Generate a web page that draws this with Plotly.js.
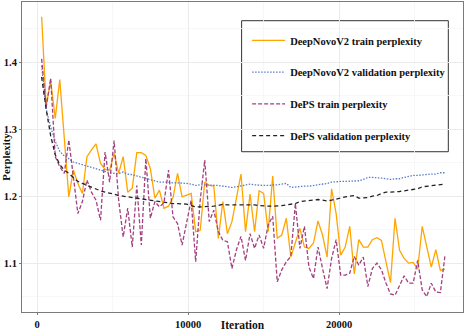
<!DOCTYPE html>
<html>
<head>
<meta charset="utf-8">
<script src="https://cdn.plot.ly/plotly-3.0.1.min.js"></script>
<style>html,body{margin:0;padding:0;background:#fff;}#chart{width:467px;height:331px;}</style>
</head>
<body>
<div id="chart"></div>
<script>
// Iterations (x values), one every 300 iterations
const iterations = [300,600,900,1200,1500,1800,2100,2400,2700,3000,3300,3600,3900,4200,4500,4800,5100,5400,5700,6000,6300,6600,6900,7200,7500,7800,8100,8400,8700,9000,9300,9600,9900,10200,10500,10800,11100,11400,11700,12000,12300,12600,12900,13200,13500,13800,14100,14400,14700,15000,15300,15600,15900,16200,16500,16800,17100,17400,17700,18000,18300,18600,18900,19200,19500,19800,20100,20400,20700,21000,21300,21600,21900,22200,22500,22800,23100,23400,23700,24000,24300,24600,24900,25200,25500,25800,26100,26400,26700,27000];

const deepnovoTrain = [1.468,1.335,1.372,1.316,1.374,1.284,1.199,1.239,1.219,1.204,1.259,1.269,1.278,1.249,1.240,1.239,1.264,1.234,1.259,1.206,1.212,1.265,1.265,1.261,1.241,1.197,1.209,1.182,1.185,1.198,1.234,1.199,1.201,1.204,1.147,1.149,1.221,1.216,1.215,1.137,1.192,1.144,1.162,1.200,1.233,1.147,1.203,1.147,1.208,1.204,1.147,1.230,1.137,1.142,1.167,1.109,1.130,1.152,1.124,1.122,1.130,1.163,1.142,1.109,1.211,1.174,1.112,1.124,1.155,1.084,1.135,1.124,1.124,1.135,1.138,1.134,1.102,1.071,1.167,1.119,1.107,1.100,1.101,1.091,1.155,1.124,1.094,1.120,1.089,1.091];

const deepnovoVal = [1.395,1.330,1.303,1.282,1.267,1.260,1.256,1.251,1.249,1.247,1.245,1.242,1.241,1.238,1.237,1.235,1.234,1.234,1.236,1.233,1.232,1.230,1.228,1.226,1.225,1.223,1.221,1.221,1.220,1.220,1.220,1.220,1.219,1.218,1.216,1.217,1.217,1.216,1.216,1.216,1.215,1.214,1.213,1.214,1.215,1.216,1.218,1.217,1.216,1.216,1.216,1.216,1.217,1.218,1.219,1.213,1.214,1.214,1.215,1.215,1.216,1.216,1.217,1.219,1.221,1.222,1.222,1.222,1.222,1.222,1.223,1.225,1.228,1.228,1.228,1.227,1.226,1.225,1.226,1.226,1.228,1.230,1.231,1.231,1.232,1.232,1.233,1.233,1.235,1.235];

const depsTrain = [1.405,1.333,1.376,1.259,1.244,1.234,1.284,1.230,1.174,1.192,1.224,1.206,1.194,1.164,1.266,1.221,1.283,1.194,1.139,1.182,1.124,1.216,1.127,1.256,1.167,1.192,1.184,1.190,1.239,1.169,1.159,1.127,1.159,1.194,1.102,1.194,1.254,1.162,1.179,1.147,1.134,1.132,1.092,1.120,1.140,1.104,1.144,1.122,1.142,1.122,1.157,1.170,1.072,1.090,1.102,1.110,1.189,1.122,1.155,1.094,1.077,1.124,1.092,1.062,1.107,1.135,1.082,1.082,1.085,1.110,1.097,1.109,1.065,1.092,1.100,1.090,1.070,1.054,1.052,1.067,1.081,1.070,1.070,1.104,1.060,1.050,1.070,1.057,1.056,1.110];

const depsVal = [1.378,1.330,1.290,1.262,1.247,1.239,1.234,1.228,1.222,1.219,1.216,1.214,1.210,1.208,1.206,1.205,1.203,1.201,1.200,1.198,1.197,1.196,1.195,1.194,1.193,1.192,1.191,1.190,1.189,1.189,1.189,1.189,1.188,1.186,1.184,1.184,1.184,1.184,1.185,1.186,1.188,1.187,1.187,1.187,1.188,1.188,1.188,1.187,1.186,1.185,1.185,1.185,1.185,1.186,1.187,1.188,1.189,1.192,1.193,1.194,1.195,1.195,1.194,1.193,1.194,1.196,1.198,1.199,1.200,1.201,1.197,1.197,1.198,1.200,1.201,1.204,1.206,1.206,1.206,1.207,1.208,1.209,1.210,1.211,1.214,1.215,1.215,1.216,1.217,1.218];

const seriesNames = ["DeepNovoV2 train perplexity","DeepNovoV2 validation perplexity","DePS train perplexity","DePS validation perplexity"];
const xTickVals = [0,10000,20000];
const yTickVals = [1.1,1.2,1.3,1.4];

const FONT = "Liberation Serif, Times New Roman, serif";

const traces = [
  {x: iterations, y: deepnovoTrain, name: seriesNames[0], legendgroup:"a", mode:"lines",
   line:{color:"#ffa500", width:1.3}},
  {x: iterations, y: deepnovoVal, name: seriesNames[1], legendgroup:"b", mode:"lines",
   line:{color:"#5b7cc9", width:1.3, dash:"1.5px,1.5px"}},
  {x: iterations, y: depsTrain, name: seriesNames[2], legendgroup:"c", mode:"lines",
   line:{color:"#a3407f", width:1.3, dash:"4px,2px"}},
  {x: iterations, y: depsVal, name: seriesNames[3], legendgroup:"d", mode:"lines",
   line:{color:"#222222", width:1.3, dash:"4px,3px"}}
];

const layout = {
  width: 467, height: 331,
  margin: {l:22, r:4, t:2, b:19, pad:0},
  paper_bgcolor:"#ffffff", plot_bgcolor:"#ffffff",
  font: {family: FONT, size: 10.5, color:"#111", weight:"bold"},
  showlegend: true,
  legend: {x:0.5105, y:0.9227, xanchor:"left", yanchor:"top", bgcolor:"rgba(0,0,0,0)",
    borderwidth:0, tracegroupgap:12.7, itemwidth:33,
    font:{family:FONT, size:10.5, color:"#111", weight:"bold"}},
  xaxis: {range:[-1000, 28200], tickvals:xTickVals, ticktext:xTickVals.map(String),
    showgrid:true, gridcolor:"#ebebeb", gridwidth:1, zeroline:false,
    minor:{dtick:5000, tick0:0, showgrid:true, gridcolor:"#f5f5f5", gridwidth:0.8, ticks:""},
    showline:true, mirror:true, linecolor:"#7a7a7a", linewidth:1,
    ticks:"outside", ticklen:2, tickcolor:"#7a7a7a",
    tickfont:{family:FONT, size:10.5, color:"#111", weight:"bold"},
    title:{text:"Iteration", standoff:0, font:{family:FONT, size:11.5, color:"#111", weight:"bold"}},
    automargin:false},
  yaxis: {range:[1.027, 1.49], tickvals:yTickVals, ticktext:["1.1","1.2","1.3","1.4"],
    showgrid:true, gridcolor:"#ebebeb", gridwidth:1, zeroline:false,
    minor:{dtick:0.05, tick0:1.05, showgrid:true, gridcolor:"#f5f5f5", gridwidth:0.8, ticks:""},
    showline:true, mirror:true, linecolor:"#7a7a7a", linewidth:1,
    ticks:"outside", ticklen:2, tickcolor:"#7a7a7a",
    tickfont:{family:FONT, size:10.5, color:"#111", weight:"bold"},
    title:{text:"Perplexity", standoff:0, font:{family:FONT, size:10.8, color:"#111", weight:"bold"}},
    automargin:false},
  shapes: [{type:"rect", xref:"paper", yref:"paper", x0:0.498, x1:0.9667, y0:0.517, y1:0.9397,
    line:{color:"#333333", width:1}, fillcolor:"#ffffff", layer:"below"}]
};

Plotly.newPlot("chart", traces, layout, {displayModeBar:false, staticPlot:true});
</script>
</body>
</html>
